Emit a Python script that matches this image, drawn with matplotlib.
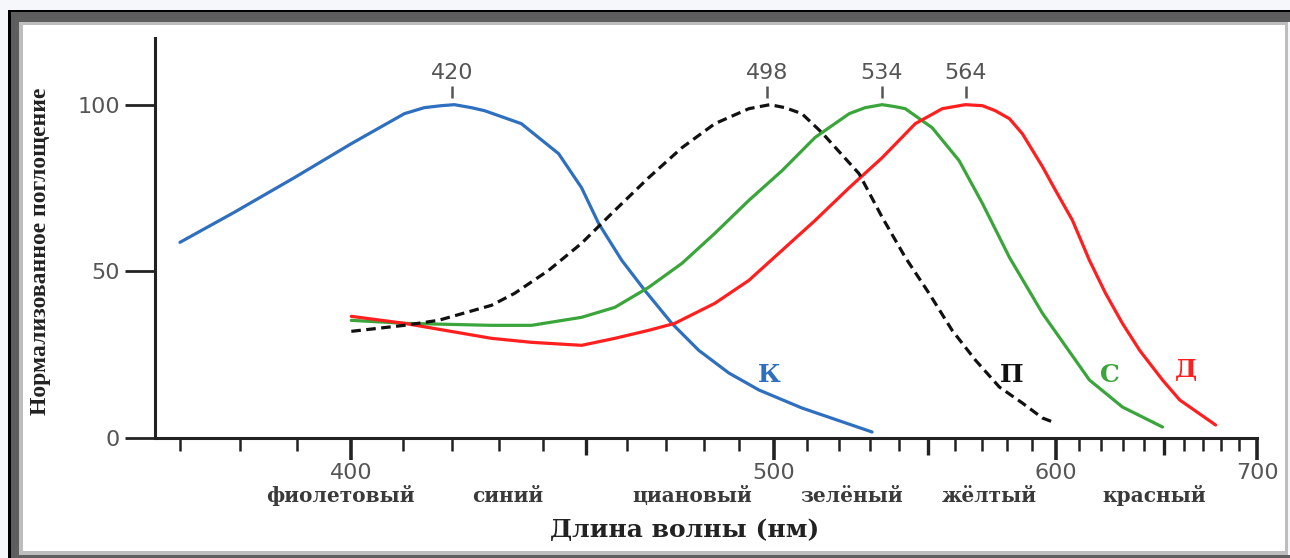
import matplotlib
matplotlib.use("Agg")
import matplotlib.pyplot as plt
from matplotlib.patches import Rectangle
from matplotlib.transforms import blended_transform_factory

# --- data (wavelength nm, normalised absorption %) ---
blue_nm = [370.0, 379.0, 389.5, 400.0, 410.3, 414.3, 417.8, 420.5, 424.1, 426.9,
           435.0, 443.5, 448.9, 453.0, 458.7, 464.5, 471.5, 478.7, 487.0, 495.6,
           508.4, 530.8]
blue_val = [58.7, 67.7, 78.1, 88.3, 97.3, 99.1, 99.7, 100.0, 99.1, 98.2,
            94.3, 85.3, 75.1, 64.4, 53.3, 44.3, 34.4, 26.3, 19.5, 14.4,
            9.0, 1.8]

rod_nm = [400.0, 410.3, 417.2, 428.4, 433.5, 441.2, 448.9, 457.0, 465.5, 474.2,
          483.1, 492.7, 498.8, 503.3, 508.4, 514.6, 526.5, 534.2, 542.1, 550.5,
          558.9, 567.6, 576.9, 586.1, 594.4, 599.9]
rod_val = [32.0, 33.8, 35.3, 39.8, 43.4, 50.3, 58.4, 68.3, 78.1, 87.1,
           94.3, 98.8, 100.0, 99.1, 97.3, 91.6, 79.3, 66.2, 54.2, 43.4,
           32.3, 23.4, 15.3, 10.5, 6.0, 4.5]

green_nm = [400.0, 410.3, 428.4, 437.3, 448.9, 457.0, 465.5, 474.2, 483.1, 492.7,
            502.4, 512.5, 523.3, 528.5, 534.2, 538.6, 542.1, 551.6, 561.5, 570.3,
            580.9, 594.4, 614.7, 629.8, 649.2]
green_val = [35.3, 34.4, 33.8, 33.8, 36.2, 39.2, 45.2, 52.4, 61.4, 71.3,
             80.2, 90.2, 97.3, 99.1, 100.0, 99.4, 98.8, 93.1, 83.2, 70.4,
             54.2, 37.4, 17.4, 9.3, 3.3]

red_nm = [400.0, 410.3, 428.4, 437.3, 448.9, 457.0, 465.5, 472.3, 483.1, 492.7,
          502.4, 512.5, 523.3, 534.2, 545.6, 555.3, 563.8, 570.3, 575.3, 580.9,
          586.1, 594.4, 599.9, 607.2, 614.7, 622.0, 629.8, 638.0, 649.2, 657.9,
          676.8]
red_val = [36.5, 34.4, 29.9, 28.7, 27.8, 29.9, 32.3, 34.4, 40.4, 47.3,
           56.3, 65.3, 75.1, 84.1, 94.3, 98.8, 100.0, 99.7, 98.2, 95.8,
           91.3, 81.4, 74.3, 65.3, 53.3, 43.4, 34.4, 26.3, 17.4, 11.4,
           3.9]

peaks = [420, 498, 534, 564]
curve_letters = ["К", "П", "С", "Д"]
letter_nm = [498.5, 582.0, 624.0, 661.0]
letter_val = [18.9, 18.9, 18.9, 20.4]

color_names = ["фиолетовый", "синий", "циановый", "зелёный", "жёлтый", "красный"]
color_name_nm = [398, 432, 477, 524, 573, 645]

x_major = [400, 500, 600, 700]
x_mid = [450, 550, 650]
y_ticks = [0, 50, 100]

BLUE = "#2f6fbf"
GREEN = "#3aa53a"
RED = "#ff1f1f"
GRAY = "#555555"
AX = "#222222"

W, H = 1290, 558
PT = 0.72  # points per pixel at dpi 100


def px_rect(x0, y0, x1, y1, color):
    # rectangle given in pixel coords, origin at top-left
    return Rectangle((x0 / W, 1 - y1 / H), (x1 - x0) / W, (y1 - y0) / H,
                     transform=fig.transFigure, facecolor=color,
                     edgecolor="none", zorder=-10)


fig = plt.figure(figsize=(W / 100, H / 100), dpi=100, facecolor="#f5f7fa")
for r in [(8, 10, 1290, 558, "#000000"),
          (11, 12, 1290, 558, "#5e5e5e"),
          (1288, 22, 1290, 555, "#f5f7fa"),
          (19, 22, 1288, 555, "#bdbdbd"),
          (23, 25, 1285, 551, "#ffffff")]:
    fig.add_artist(px_rect(*r))

ax = fig.add_axes([155 / W, 1 - 438 / H, (1257 - 155) / W, 400 / H])
ax.patch.set_alpha(0)

recip = (lambda x: -1.0 / x, lambda x: -1.0 / x)
ax.set_xscale("function", functions=recip)

ax.plot(blue_nm, blue_val, color=BLUE, lw=2.3, solid_capstyle="round")
ax.plot(green_nm, green_val, color=GREEN, lw=2.3, solid_capstyle="round")
ax.plot(red_nm, red_val, color=RED, lw=2.3, solid_capstyle="round")
ax.plot(rod_nm, rod_val, color="#111111", lw=2.3, dashes=(3.0, 1.7))

ax.set_xlim(366, 700)
ax.set_ylim(0, 120)

for s in ["top", "right"]:
    ax.spines[s].set_visible(False)
for s in ["left", "bottom"]:
    ax.spines[s].set_linewidth(2.2)
    ax.spines[s].set_color(AX)

ax.set_xticks(x_major)
ax.set_xticklabels([str(v) for v in x_major])
ax.set_xticks([v for v in range(370, 700, 10) if v % 50], minor=True)
ax.tick_params(axis="x", which="major", length=22 * PT, width=2.6, color=AX,
               labelsize=16, labelcolor=GRAY, pad=2)
ax.tick_params(axis="x", which="minor", length=13 * PT, width=1.8, color=AX)
ax.set_yticks(y_ticks)
ax.tick_params(axis="y", length=30 * PT, width=2.0, color=AX,
               labelsize=16, labelcolor=GRAY, pad=5 * PT)

# medium ticks at 450/550/650
ax2 = ax.twiny()
ax2.set_xscale("function", functions=recip)
ax2.set_xlim(ax.get_xlim())
ax2.xaxis.set_ticks_position("bottom")
ax2.set_xticks(x_mid)
ax2.set_xticklabels([])
ax2.tick_params(axis="x", length=17 * PT, width=2.4, color=AX)
for s in ax2.spines.values():
    s.set_visible(False)

# peak markers
for p in peaks:
    ax.vlines(p, 102.0, 105.7, color=GRAY, lw=1.8)
    ax.text(p, 109.6, str(p), ha="center", va="center", fontsize=16, color=GRAY)

# curve letters
for t, xv, yv, c in zip(curve_letters, letter_nm, letter_val,
                        [BLUE, "#111111", GREEN, RED]):
    ax.text(xv, yv, t, ha="center", va="center", fontsize=18,
            fontweight="bold", family="DejaVu Serif", color=c)

# colour names under the axis
tr = blended_transform_factory(ax.transData, ax.transAxes)
for name, xv in zip(color_names, color_name_nm):
    ax.text(xv, -0.145, name, transform=tr, ha="center", va="center",
            fontsize=14.5, family="DejaVu Serif", fontweight="bold",
            color="#3a3a3a")

fig.text(685 / W, 1 - 530 / H, "Длина волны (нм)", ha="center", va="center",
         fontsize=18, family="DejaVu Serif", fontweight="bold", color="#222222")
fig.text(41 / W, 1 - 251 / H, "Нормализованное поглощение", rotation=90,
         ha="center", va="center", fontsize=17, family="Liberation Serif",
         fontweight="bold", color="#222222")

fig.savefig("out.png", dpi=100, facecolor=fig.get_facecolor())
